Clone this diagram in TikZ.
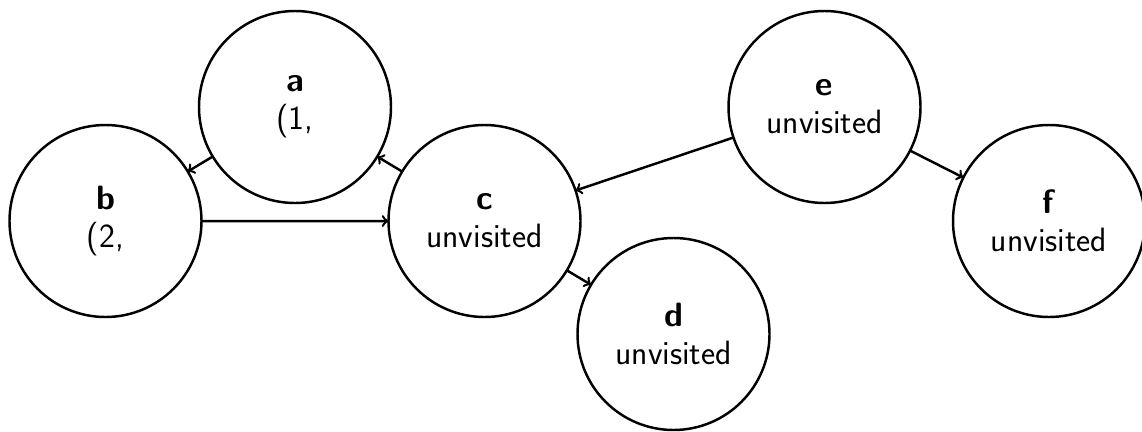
\documentclass[tikz,border=0pt]{standalone}
\usepackage{amsmath, amsthm, amssymb}
\usepackage{tkz-graph}
\usetikzlibrary{arrows}
\usetikzlibrary{shapes}

\begin{document}
\begin{tikzpicture}[scale = 10, font=\sffamily, >=to]
	\tikzstyle{VertexStyle} = []
	\tikzstyle{EdgeStyle} = []
	\tikzstyle{visitStyle}=[shape = circle, minimum size = 3.84cm, inner sep = 0pt, line width = 1.4pt, align = center, font = \sffamily\fontsize{19.2}{21.6}\selectfont, draw]
	\tikzstyle{arcStyle}=[->, line width = 1.4pt]
	\useasboundingbox (0,0) rectangle (2.284,0.862);
	\Vertex[style = visitStyle, x = 0.590, y = 0.648, L = {\textbf{a}\\(1,}]{a}
	\Vertex[style = visitStyle, x = 0.211, y = 0.420, L = {\textbf{b}\\(2,}]{b}
	\Vertex[style = visitStyle, x = 0.969, y = 0.420, L = {\textbf{c}\\unvisited}]{c}
	\Vertex[style = visitStyle, x = 1.347, y = 0.194, L = {\textbf{d}\\unvisited}]{d}
	\Vertex[style = visitStyle, x = 1.649, y = 0.648, L = {\textbf{e}\\unvisited}]{e}
	\Vertex[style = visitStyle, x = 2.098, y = 0.420, L = {\textbf{f}\\unvisited}]{f}
	\Edge[style = arcStyle](a)(b)
	\Edge[style = arcStyle](b)(c)
	\Edge[style = arcStyle](c)(a)
	\Edge[style = arcStyle](c)(d)
	\Edge[style = arcStyle](e)(c)
	\Edge[style = arcStyle](e)(f)
\end{tikzpicture}
\end{document}
